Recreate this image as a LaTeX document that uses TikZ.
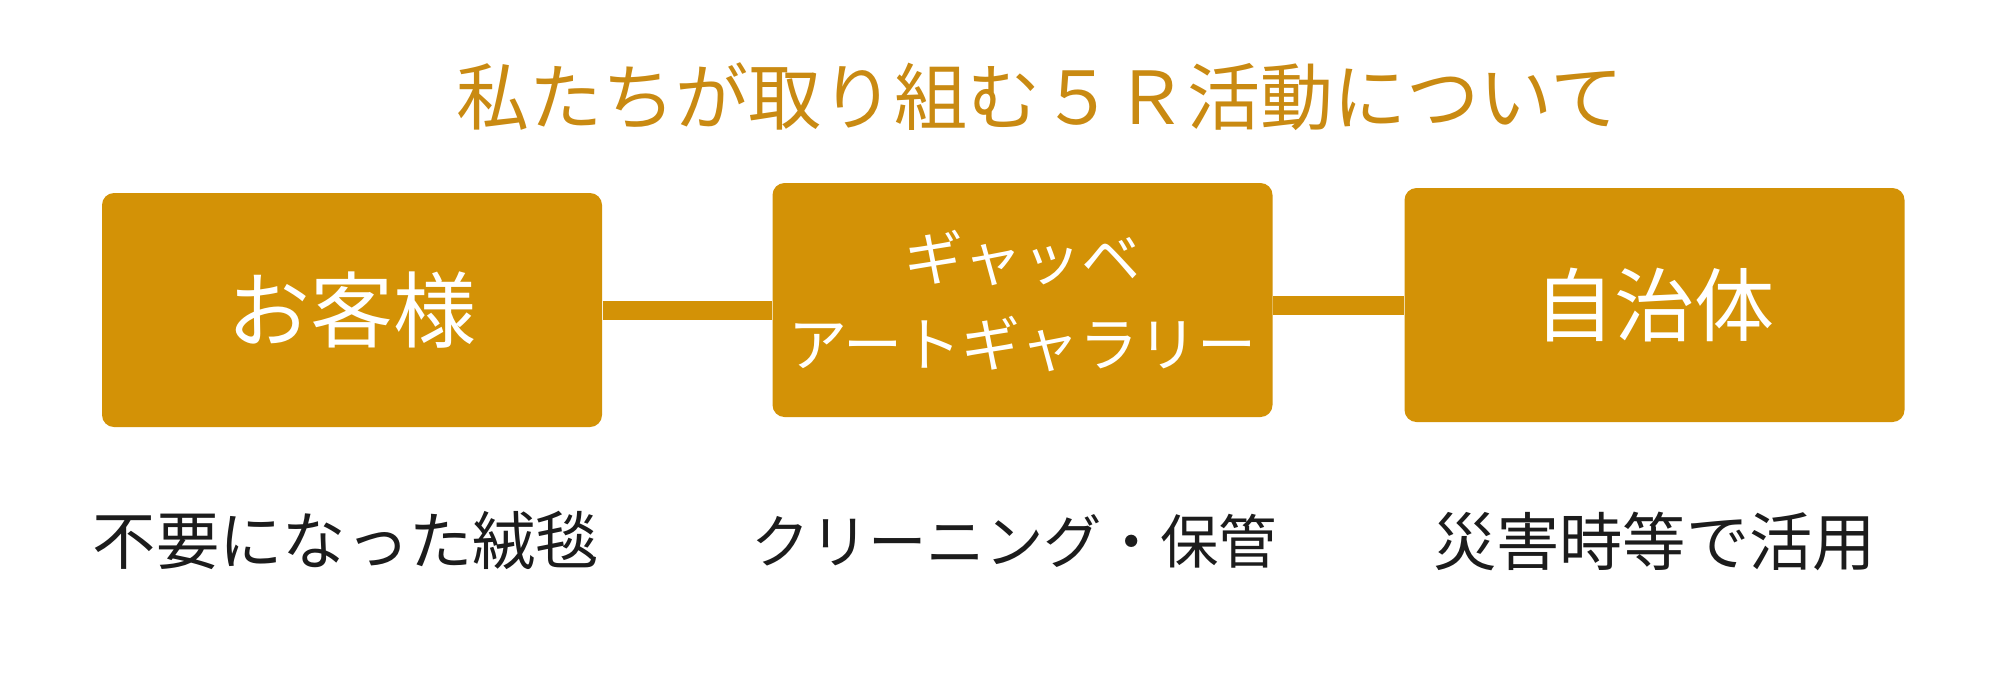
\documentclass[tikz,border=0pt]{standalone}
\usepackage{fontspec}
\newfontfamily\jp{Noto Sans CJK JP}
\usetikzlibrary{positioning}

\definecolor{gold}{HTML}{D39206}
\definecolor{titlegold}{HTML}{C98A12}
\definecolor{ink}{HTML}{1C1C1C}

\tikzset{
		box/.style={
					rectangle,
					rounded corners=0.12cm,
					fill=gold,
					minimum width=5cm,
					minimum height=2.34cm,
					inner sep=0pt,
					align=center,
					text=white
		},
		link/.style={
					gold,
					line width=0.19cm
		},
		caption/.style={
					inner sep=0pt,
					text=ink,
					font=\jp\fontsize{18}{22}\selectfont
		}
		}

\begin{document}
\begin{tikzpicture}
			\useasboundingbox (0,0) rectangle (20,6.77);

			\node[text=titlegold, inner sep=0pt, font=\jp\fontsize{20.8}{24}\selectfont] (title) at (10.40,5.80) {私たちが取り組む５Ｒ活動について};

			\node[box, font=\jp\fontsize{23.6}{28}\selectfont] (guest) at (3.52,3.67) {お客様};
			\node[box, font=\jp\fontsize{16.8}{24.5}\selectfont] (gallery) at (10.225,3.77) {\rule{0pt}{0.9em}ギャッベ\\アートギャラリー};
			\node[box, font=\jp\fontsize{22.8}{28}\selectfont] (city) at (16.545,3.72) {自治体};

			% connecting bars
			\draw[link] (guest.east) -- (guest.east -| gallery.west);
			\draw[link] (city.west -| gallery.east) -- (city.west);

			\coordinate (row) at (0,1.36);
			\node[caption] (rugs) at ([xshift=-0.06cm]guest |- row) {不要になった絨毯};
			\node[caption, font=\jp\fontsize{16.6}{22}\selectfont] (clean) at ([xshift=-0.08cm]gallery |- row) {クリーニング・保管};
			\node[caption] (disaster) at (city |- row) {災害時等で活用};
		\end{tikzpicture}
\end{document}
